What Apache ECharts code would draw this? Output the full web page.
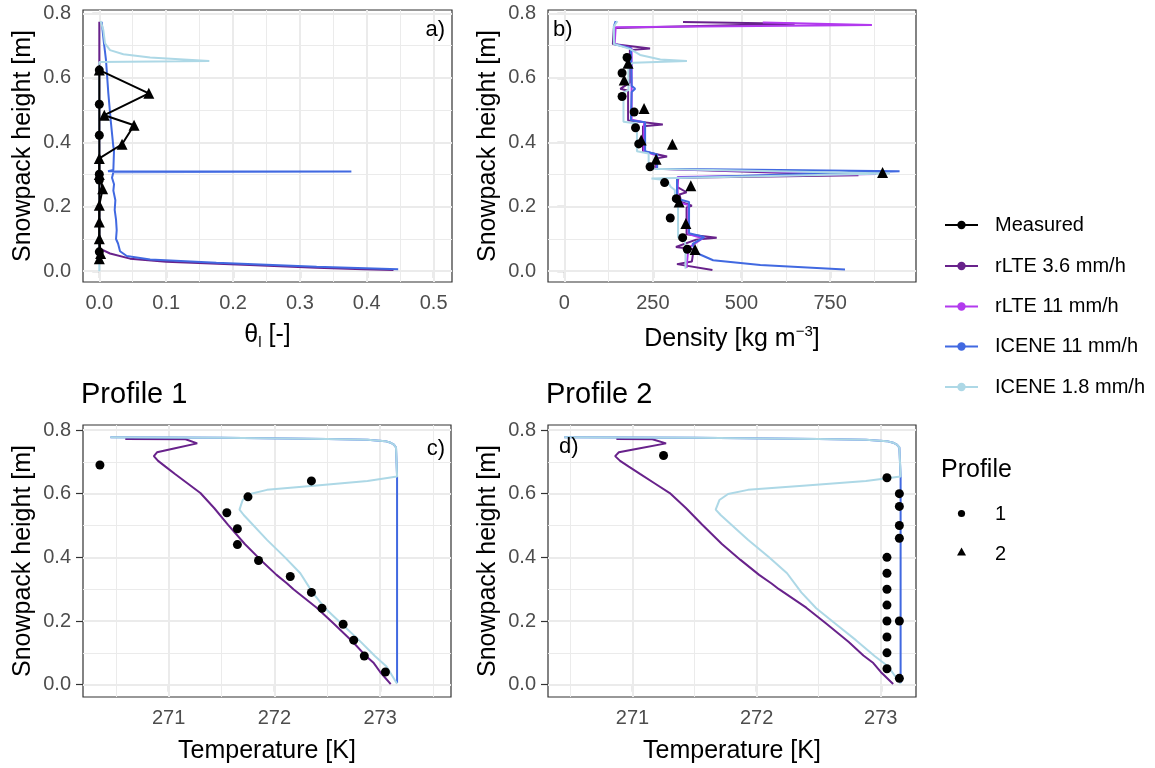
<!DOCTYPE html>
<html><head><meta charset="utf-8">
<script src="https://cdn.jsdelivr.net/npm/echarts@6/dist/echarts.min.js"></script>
<style>html,body{margin:0;padding:0;background:#fff}#c{width:1155px;height:768px}</style>
</head><body><div id="c"></div>
<script>
// ---------------- DATA ----------------
const legendNames = ['Measured', 'rLTE 3.6 mm/h', 'rLTE 11 mm/h', 'ICENE 11 mm/h', 'ICENE 1.8 mm/h'];
const profileNames = ['1', '2'];
const panelTags = ['a)', 'b)', 'c)', 'd)'];
const panelTitles = ['Profile 1', 'Profile 2'];

const heightTicks = [0, 0.2, 0.4, 0.6, 0.8];
const thetaTicks = [0, 0.1, 0.2, 0.3, 0.4, 0.5];
const densityTicks = [0, 250, 500, 750];
const tempTicks = [271, 272, 273];

// Panel a: liquid water content [theta, height]
const thetaMeasP1 = [[0,0.624],[0,0.518],[0,0.422],[0,0.301],[0,0.283],[0,0.060]];
const thetaMeasP2 = [[0,0.624],[0.074,0.552],[0.0075,0.484],[0.052,0.453],[0.034,0.394],[0,0.350],[0,0.300],[0.005,0.256],[0,0.205],[0,0.153],[0,0.101],[0.002,0.055],[0,0.039]];
const thetaRlte36 = [[0,0.774],[0,0.071],[0.016,0.055],[0.046,0.039],[0.10,0.029],[0.225,0.019],[0.325,0.011],[0.395,0.006],[0.44,0.004]];
const thetaIcene11 = [[0.0035,0.774],[0.007,0.707],[0.010,0.655],[0.0135,0.552],[0.017,0.469],[0.021,0.386],[0.022,0.376],[0.021,0.314],[0.013,0.310],[0.377,0.309],[0.021,0.307],[0.019,0.29],[0.022,0.27],[0.021,0.25],[0.024,0.22],[0.023,0.19],[0.025,0.16],[0.026,0.127],[0.025,0.10],[0.028,0.086],[0.031,0.062],[0.041,0.047],[0.076,0.036],[0.175,0.026],[0.325,0.0135],[0.447,0.006]];
const thetaIcene18 = [[0.002,0.776],[0.006,0.748],[0.0085,0.707],[0.016,0.686],[0.036,0.673],[0.076,0.663],[0.126,0.657],[0.1645,0.652],[0,0.649],[0,0]];

// Panel b: density [kg m-3, height]
const densMeasP1 = [[177,0.663],[163,0.615],[163,0.542],[197,0.494],[201,0.445],[210,0.395],[242,0.324],[283,0.275],[316,0.225],[299,0.165],[334,0.104],[347,0.068]];
const densMeasP2 = [[180,0.645],[169,0.593],[225,0.505],[217,0.407],[305,0.394],[259,0.347],[898,0.306],[357,0.265],[324,0.215],[343,0.148],[369,0.067]];
const densRlte36 = [[335,0.773],[650,0.768],[140,0.755],[137,0.705],[242,0.691],[185,0.686],[185,0.585],[158,0.566],[180,0.560],[180,0.468],[278,0.455],[222,0.450],[222,0.372],[290,0.356],[257,0.350],[258,0.318],[830,0.298],[322,0.290],[318,0.262],[345,0.245],[325,0.238],[330,0.215],[360,0.203],[345,0.198],[345,0.115],[430,0.104],[372,0.098],[315,0.075],[365,0.068],[360,0.030],[318,0.022],[418,0.004]];
const densRlte11 = [[560,0.772],[868,0.764],[145,0.757],[142,0.705],[190,0.692],[190,0.470],[225,0.462],[225,0.372],[260,0.360],[260,0.318],[880,0.302],[320,0.292],[320,0.215],[350,0.205],[350,0.115],[390,0.102],[350,0.072],[345,0.010]];
const densIcene11 = [[145,0.776],[140,0.760],[140,0.705],[188,0.692],[190,0.575],[200,0.566],[190,0.556],[188,0.468],[228,0.462],[228,0.372],[262,0.362],[262,0.318],[946,0.310],[318,0.290],[318,0.225],[352,0.215],[352,0.118],[395,0.106],[362,0.085],[370,0.058],[420,0.034],[553,0.019],[792,0.005]];
const densIcene18 = [[150,0.776],[140,0.760],[140,0.705],[185,0.690],[214,0.671],[271,0.657],[346,0.652],[196,0.647],[181,0.640],[181,0.562],[167,0.555],[167,0.464],[205,0.458],[205,0.372],[238,0.365],[238,0.318],[919,0.303],[246,0.288],[290,0.282],[300,0.262],[312,0.252],[312,0.225],[321,0.218],[321,0.105],[340,0.092],[342,0.080],[342,0.008]];

// Panels c, d: temperature [K, height]
const tempMeasP1 = [[270.35,0.69],[272.35,0.64],[271.75,0.59],[271.55,0.54],[271.65,0.49],[271.65,0.44],[271.85,0.39],[272.15,0.34],[272.35,0.29],[272.45,0.24],[272.65,0.19],[272.75,0.14],[272.85,0.09],[273.05,0.04]];
const tempMeasP2 = [[271.25,0.72],[273.05,0.65],[273.15,0.60],[273.15,0.56],[273.15,0.50],[273.15,0.46],[273.05,0.40],[273.05,0.35],[273.05,0.30],[273.05,0.25],[273.05,0.20],[273.15,0.20],[273.05,0.15],[273.05,0.10],[273.05,0.05],[273.15,0.02]];
const tempRlte36P1 = [[270.59,0.772],[271.16,0.771],[271.27,0.758],[271.05,0.742],[270.89,0.730],[270.86,0.718],[270.90,0.703],[270.97,0.685],[271.06,0.662],[271.18,0.632],[271.30,0.602],[271.43,0.555],[271.56,0.503],[271.72,0.442],[271.87,0.392],[272.02,0.345],[272.12,0.318],[272.18,0.300],[272.40,0.242],[272.56,0.192],[272.74,0.135],[272.86,0.092],[272.94,0.068],[273.0,0.040],[273.10,0.002]];
const tempRlte36P2 = [[270.87,0.772],[271.16,0.771],[271.27,0.758],[271.05,0.742],[270.89,0.730],[270.86,0.718],[270.90,0.703],[270.97,0.685],[271.06,0.662],[271.18,0.632],[271.30,0.602],[271.43,0.555],[271.56,0.503],[271.72,0.442],[271.87,0.392],[272.02,0.345],[272.12,0.318],[272.18,0.300],[272.40,0.242],[272.56,0.192],[272.74,0.135],[272.86,0.092],[272.94,0.068],[273.0,0.040],[273.10,0.002]];
const tempIcene11 = [[270.45,0.777],[271.5,0.776],[272.5,0.772],[272.88,0.769],[273.05,0.765],[273.10,0.760],[273.13,0.754],[273.15,0.745],[273.16,0.654],[273.16,0.005]];
const tempIcene18 = [[270.45,0.777],[271.5,0.776],[272.5,0.772],[272.88,0.769],[273.05,0.765],[273.10,0.760],[273.13,0.754],[273.15,0.745],[273.16,0.654],[272.88,0.640],[272.40,0.626],[271.93,0.612],[271.77,0.599],[271.70,0.580],[271.67,0.550],[271.71,0.533],[271.93,0.455],[272.10,0.40],[272.245,0.350],[272.36,0.29],[272.48,0.24],[272.64,0.19],[272.80,0.14],[272.95,0.09],[273.06,0.057],[273.16,0.003]];

// ---------------- STYLE ----------------
const colors = ['#000000', '#68228B', '#B23AEE', '#4169E1', '#ADD8E6'];
const FONT = '"Liberation Sans", Arial, sans-serif';
const GRID_COL = '#EBEBEB';

const chart = echarts.init(document.getElementById('c'), null, {renderer: 'canvas'});

const grids = [
  {left: 83, top: 10, width: 369, height: 272},
  {left: 548, top: 10, width: 368, height: 272},
  {left: 83, top: 425, width: 368, height: 272},
  {left: 548, top: 425, width: 368, height: 272}
].map(g => Object.assign(g, {show: true, borderColor: '#333333', borderWidth: 1.2, backgroundColor: '#fff', containLabel: false}));

function xAx(gi, min, max, ticks, fmt, name, gap, rich) {
  return {
    type: 'value', gridIndex: gi, min: min, max: max,
    splitLine: {show: false}, axisLine: {show: false},
    axisTick: {show: true, length: 7, lineStyle: {color: '#333333', width: 1.2}, customValues: ticks},
    axisLabel: {show: true, color: '#4D4D4D', fontSize: 20, fontFamily: FONT, margin: 11, customValues: ticks, formatter: fmt},
    name: name, nameLocation: 'middle', nameGap: gap,
    nameTextStyle: {color: '#000', fontSize: 25, fontFamily: FONT, rich: rich}
  };
}
function yAx(gi, min, max) {
  return {
    type: 'value', gridIndex: gi, min: min, max: max,
    splitLine: {show: false}, axisLine: {show: false},
    axisTick: {show: true, length: 7, lineStyle: {color: '#333333', width: 1.2}, customValues: heightTicks},
    axisLabel: {show: true, color: '#4D4D4D', fontSize: 20, fontFamily: FONT, margin: 12, customValues: heightTicks, formatter: v => v.toFixed(1)},
    name: 'Snowpack height [m]', nameLocation: 'middle', nameGap: 47, nameRotate: 90,
    nameTextStyle: {color: '#000', fontSize: 25, fontFamily: FONT}
  };
}

function mid(ticks, lo, hi) {
  const out = [];
  const step = ticks[1] - ticks[0];
  for (let i = -1; i < ticks.length; i++) {
    const v = ticks[0] + (i + 0.5) * step;
    if (v > lo && v < hi) out.push(+v.toFixed(6));
  }
  return out;
}

function gridHelper(gi, xt, xr, yt, yr) {
  const d = [];
  mid(xt, xr[0], xr[1]).forEach(v => d.push({xAxis: v, lineStyle: {color: GRID_COL, width: 1, type: 'solid'}}));
  mid(yt, yr[0], yr[1]).forEach(v => d.push({yAxis: v, lineStyle: {color: GRID_COL, width: 1, type: 'solid'}}));
  xt.forEach(v => d.push({xAxis: v, lineStyle: {color: GRID_COL, width: 2, type: 'solid'}}));
  yt.forEach(v => d.push({yAxis: v, lineStyle: {color: GRID_COL, width: 2, type: 'solid'}}));
  return {
    type: 'line', xAxisIndex: gi, yAxisIndex: gi, data: [], silent: true, z: 1,
    markLine: {silent: true, z: 1, symbol: ['none', 'none'], label: {show: false}, animation: false,
      lineStyle: {type: 'solid'}, emphasis: {disabled: true}, data: d}
  };
}

function modelLine(gi, data, ci) {
  return {type: 'line', xAxisIndex: gi, yAxisIndex: gi, data: data, showSymbol: false, symbol: 'none',
    lineStyle: {color: colors[ci], width: 2}, itemStyle: {color: colors[ci]}, z: 3 + ci * 0.1, clip: true, silent: true};
}
function measLine(gi, data, sym, size) {
  return {type: 'line', xAxisIndex: gi, yAxisIndex: gi, data: data, symbol: sym, symbolSize: size, showSymbol: true,
    lineStyle: {color: '#000', width: 2}, itemStyle: {color: '#000'}, z: 5, clip: true, silent: true};
}
function measPts(gi, data, sym, size) {
  return {type: 'scatter', xAxisIndex: gi, yAxisIndex: gi, data: data, symbol: sym, symbolSize: size,
    itemStyle: {color: '#000', opacity: 1}, z: 5, clip: true, silent: true};
}

const yrAB = [-0.0335, 0.8105];
const yrCD = [-0.0386, 0.8157];
const xrA = [-0.0244, 0.5275];
const xrB = [-46, 992.4];
const xrC = [270.19, 273.67];
const xrD = [270.319, 273.284];

const option = {
  animation: false,
  backgroundColor: '#ffffff',
  textStyle: {fontFamily: FONT},
  grid: grids,
  title: [
    {text: panelTitles[0], left: 81, top: 380, padding: 0, textStyle: {fontSize: 29, fontWeight: 'normal', color: '#000', fontFamily: FONT}},
    {text: panelTitles[1], left: 546, top: 380, padding: 0, textStyle: {fontSize: 29, fontWeight: 'normal', color: '#000', fontFamily: FONT}}
  ],
  xAxis: [
    xAx(0, xrA[0], xrA[1], thetaTicks, v => v.toFixed(1), '{t|θ}{s|l}{t| [-]}', 38,
      {t: {fontSize: 25, lineHeight: 30, fontFamily: FONT, color: '#000'}, s: {fontSize: 15, lineHeight: 12, verticalAlign: 'bottom', fontFamily: FONT, color: '#000'}}),
    xAx(1, xrB[0], xrB[1], densityTicks, v => String(v), '{t|Density [kg m}{p|\u22123}{t|]}', 42,
      {t: {fontSize: 25, lineHeight: 30, fontFamily: FONT, color: '#000'}, p: {fontSize: 15, lineHeight: 12, verticalAlign: 'top', fontFamily: FONT, color: '#000'}}),
    xAx(2, xrC[0], xrC[1], tempTicks, v => String(v), 'Temperature [K]', 42),
    xAx(3, xrD[0], xrD[1], tempTicks, v => String(v), 'Temperature [K]', 42)
  ],
  yAxis: [yAx(0, yrAB[0], yrAB[1]), yAx(1, yrAB[0], yrAB[1]), yAx(2, yrCD[0], yrCD[1]), yAx(3, yrCD[0], yrCD[1])],
  series: [
    gridHelper(0, thetaTicks, xrA, heightTicks, yrAB),
    gridHelper(1, densityTicks, xrB, heightTicks, yrAB),
    gridHelper(2, tempTicks, xrC, heightTicks, yrCD),
    gridHelper(3, tempTicks, xrD, heightTicks, yrCD),
    // a
    modelLine(0, thetaRlte36, 1),
    modelLine(0, thetaIcene11, 3),
    modelLine(0, thetaIcene18, 4),
    measLine(0, thetaMeasP1, 'circle', 9),
    measLine(0, thetaMeasP2, 'triangle', 11),
    // b
    modelLine(1, densRlte11, 2),
    modelLine(1, densRlte36, 1),
    modelLine(1, densIcene11, 3),
    modelLine(1, densIcene18, 4),
    measPts(1, densMeasP1, 'circle', 9),
    measPts(1, densMeasP2, 'triangle', 11),
    // c
    modelLine(2, tempRlte36P1, 1),
    modelLine(2, tempIcene11, 3),
    modelLine(2, tempIcene18, 4),
    measPts(2, tempMeasP1, 'circle', 9),
    // d
    modelLine(3, tempRlte36P2, 1),
    modelLine(3, tempIcene11, 3),
    modelLine(3, tempIcene18, 4),
    measPts(3, tempMeasP2, 'circle', 9)
  ],
  graphic: []
};

// panel tags
const tagPos = [[445, 30, 'right'], [553, 30, 'left'], [445, 449, 'right'], [559, 447, 'left']];
panelTags.forEach((t, i) => option.graphic.push({type: 'text', z: 50, style: {text: t, x: tagPos[i][0], y: tagPos[i][1], align: tagPos[i][2], verticalAlign: 'middle', font: '22px ' + FONT, fill: '#000'}}));

// legend: models
const legY = [225, 266, 306.5, 346.5, 387];
legendNames.forEach((n, i) => {
  option.graphic.push({type: 'line', shape: {x1: 945, y1: legY[i], x2: 978, y2: legY[i]}, style: {stroke: colors[i], lineWidth: 2}});
  option.graphic.push({type: 'circle', shape: {cx: 961.5, cy: legY[i], r: 4.2}, style: {fill: colors[i]}});
  option.graphic.push({type: 'text', style: {text: n, x: 995, y: legY[i], verticalAlign: 'middle', font: '20px ' + FONT, fill: '#000'}});
});
// legend: profiles
option.graphic.push({type: 'text', style: {text: 'Profile', x: 941, y: 470, verticalAlign: 'middle', font: '25px ' + FONT, fill: '#000'}});
option.graphic.push({type: 'circle', shape: {cx: 961.5, cy: 513.5, r: 3.6}, style: {fill: '#000'}});
option.graphic.push({type: 'text', style: {text: profileNames[0], x: 995, y: 514, verticalAlign: 'middle', font: '20px ' + FONT, fill: '#000'}});
option.graphic.push({type: 'polygon', shape: {points: [[961.5, 547.5], [966, 555.5], [957, 555.5]]}, style: {fill: '#000'}});
option.graphic.push({type: 'text', style: {text: profileNames[1], x: 995, y: 554, verticalAlign: 'middle', font: '20px ' + FONT, fill: '#000'}});

chart.setOption(option);
</script></body></html>
